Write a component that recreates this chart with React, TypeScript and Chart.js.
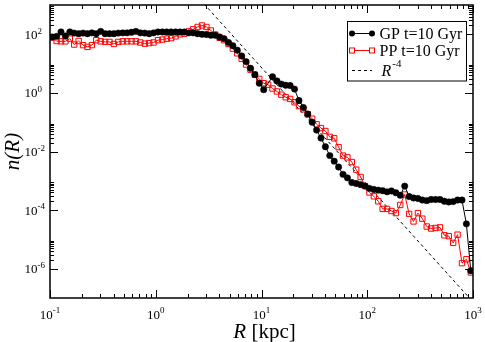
import React, { useEffect, useRef } from 'react';
import { Chart, registerables } from 'chart.js';

Chart.register(...registerables);

// Radii of the bins [kpc]
const R_KPC = [
  0.10491, 0.11548, 0.1271, 0.1399, 0.15399, 0.1695, 0.18657, 0.20535, 0.22603, 0.2488, 0.27384, 0.30142,
  0.33177, 0.36517, 0.40194, 0.44242, 0.48697, 0.536, 0.58997, 0.64938, 0.71477, 0.78674, 0.86596, 0.95316,
  1.0491, 1.1548, 1.271, 1.399, 1.5399, 1.695, 1.8657, 2.0535, 2.2603, 2.488, 2.7384, 3.0142,
  3.3177, 3.6517, 4.0194, 4.4242, 4.8697, 5.36, 5.8997, 6.4938, 7.1477, 7.8674, 8.6596, 9.5316,
  10.491, 11.548, 12.71, 13.99, 15.399, 16.95, 18.657, 20.535, 22.603, 24.88, 27.384, 30.142,
  33.177, 36.517, 40.194, 44.242, 48.697, 53.6, 58.997, 64.938, 71.477, 78.674, 86.596, 95.316,
  104.91, 115.48, 127.1, 139.9, 153.99, 169.5, 186.57, 205.35, 226.03, 248.8, 273.84, 301.42,
  331.77, 365.17, 401.94, 442.42, 486.97, 536.0, 589.97, 649.38, 714.77, 786.74, 865.96, 953.16,
];

// GP t=10 Gyr
const GP_N = [
  81, 85, 120, 87, 120, 110, 105, 110, 105, 112,
  105, 126, 105, 105, 105, 110, 112, 112, 117, 126,
  112, 110, 105, 112, 120, 120, 120, 120, 120, 120,
  120, 112, 112, 105, 100, 98, 93, 93, 81, 71,
  52.5, 40.7, 28.8, 18.2, 11.7, 6.9, 4.2, 2.14, 1.29, null,
  3.55, 2.57, 2.0, 1.82, 1.78, 1.35, 0.55, 0.316, 0.19, 0.1,
  0.0537, 0.0288, 0.0145, 0.00724, 0.00468, 0.00295, 0.00166, 0.00126, 8.7e-4, 8.1e-4,
  7.4e-4, 6.6e-4, 5.5e-4, 5.1e-4, 4.8e-4, 4.6e-4, 4.2e-4, 4.5e-4, 3.9e-4, 3.2e-4,
  6.6e-4, 2.9e-4, 2.6e-4, 2.5e-4, 2.2e-4, 2.1e-4, 2.3e-4, 2.3e-4, 2.3e-4, 2.0e-4,
  1.9e-4, 1.95e-4, 2.2e-4, 2.2e-4, 3.4e-5, 8.5e-7,
];

// PP t=10 Gyr
const PP_N = [
  78, 59, 57.5, 57.5, 71, 44.7, 59, 42.7, 37.2, 42.7,
  63, 57.5, 55, 55, 46.8, 55, 57.5, 57.5, 57.5, 57.5,
  52.5, 47.9, 50, 52.5, 63, 66, 71, 74, 85, 100,
  105, 126, 148, 178, 200, 178, 135, 98, 76, 63,
  46.8, 32.4, 22.4, 14.5, 9.3, 6.2, 4.2, 3.0, 2.14, 1.91,
  1.41, 1.12, 0.87, 0.71, 0.62, 0.48, 0.355, 0.275, 0.186, 0.132,
  0.085, 0.063, 0.05, 0.0316, 0.0282, 0.0141, 0.00724, 0.00631, 0.00437, 0.0024,
  0.00135, 6.6e-4, 4.0e-4, 2.95e-4, 2.0e-4, 1.1e-4, 1.1e-4, 9.3e-5, 7.9e-5, 1.5e-4,
  3.4e-4, 7.4e-5, 4.1e-5, 7.9e-5, 5.1e-5, 2.75e-5, 2.35e-5, 2.45e-5, 2.57e-5, 1.38e-5,
  1.29e-5, 7.6e-6, 1.45e-5, 1.55e-6, 2.1e-6, 7.4e-7,
];

// R^-4 reference line (end points)
const R4_X = [1, 1000];
const R4_Y = [7.3e4, 7.3e-8];

// Axis ticks
const X_MAJOR = [0.1, 1, 10, 100, 1000];
const X_EXP = ['-1', '0', '1', '2', '3'];
const Y_MAJOR = [1e2, 1, 1e-2, 1e-4, 1e-6];
const Y_EXP = ['2', '0', '-2', '-4', '-6'];
const MINOR_MULT = [2, 3, 4, 5, 6, 7, 8, 9];

const LEGEND_LABELS = ['GP t=10 Gyr', 'PP t=10 Gyr'];

const SERIF = '"Liberation Serif", "Times New Roman", serif';

const framePlugin = {
  id: 'graceFrame',
  afterDatasetsDraw(chart: any) {
    const { ctx, chartArea, scales } = chart;
    const { left, right, top, bottom } = chartArea;
    const xs = scales.x;
    const ys = scales.y;
    ctx.save();
    ctx.strokeStyle = '#000';
    ctx.fillStyle = '#000';
    ctx.lineWidth = 1.5;
    ctx.strokeRect(left, top, right - left, bottom - top);

    const seg = (x1: number, y1: number, x2: number, y2: number) => {
      ctx.beginPath();
      ctx.moveTo(x1, y1);
      ctx.lineTo(x2, y2);
      ctx.stroke();
    };
    ctx.lineWidth = 1;
    const MAJ = 8;
    const MIN = 4;
    // x ticks
    X_MAJOR.forEach((v, i) => {
      const px = Math.round(xs.getPixelForValue(v)) + 0.5;
      seg(px, bottom, px, bottom - MAJ);
      seg(px, top, px, top + MAJ);
      if (i < X_MAJOR.length - 1) {
        MINOR_MULT.forEach((m) => {
          const p = Math.round(xs.getPixelForValue(v * m)) + 0.5;
          seg(p, bottom, p, bottom - MIN);
          seg(p, top, p, top + MIN);
        });
      }
    });
    // y ticks
    Y_MAJOR.forEach((v) => {
      const py = Math.round(ys.getPixelForValue(v)) + 0.5;
      seg(left, py, left + MAJ, py);
      seg(right, py, right - MAJ, py);
      MINOR_MULT.forEach((m) => {
        const p = Math.round(ys.getPixelForValue(v * m)) + 0.5;
        seg(left, p, left + MIN, p);
        seg(right, p, right - MIN, p);
      });
    });

    // tick labels
    const baseFont = `13px ${SERIF}`;
    const expFont = `9px ${SERIF}`;
    ctx.textBaseline = 'alphabetic';
    ctx.textAlign = 'left';
    X_MAJOR.forEach((v, i) => {
      const px = xs.getPixelForValue(v);
      ctx.font = baseFont;
      const w1 = ctx.measureText('10').width;
      ctx.font = expFont;
      const w2 = ctx.measureText(X_EXP[i]).width;
      const x0 = px - (w1 + w2) / 2;
      const base = bottom + 20.5;
      ctx.font = baseFont;
      ctx.fillText('10', x0, base);
      ctx.font = expFont;
      ctx.fillText(X_EXP[i], x0 + w1, base - 5.5);
    });
    Y_MAJOR.forEach((v, i) => {
      const py = ys.getPixelForValue(v);
      ctx.font = baseFont;
      const w1 = ctx.measureText('10').width;
      const xr = 37.5;
      ctx.fillText('10', xr - w1, py + 4.5);
      ctx.font = expFont;
      ctx.fillText(Y_EXP[i], xr, py - 0.8);
    });

    // axis titles
    ctx.font = `italic 21px ${SERIF}`;
    const rw = ctx.measureText('R').width;
    ctx.font = `21px ${SERIF}`;
    const kw = ctx.measureText(' [kpc]').width;
    const cx = (left + right) / 2 + 3;
    const tx = cx - (rw + kw) / 2;
    ctx.font = `italic 21px ${SERIF}`;
    ctx.fillText('R', tx, 338);
    ctx.font = `21px ${SERIF}`;
    ctx.fillText(' [kpc]', tx + rw, 338);

    ctx.save();
    ctx.translate(19, (top + bottom) / 2);
    ctx.rotate(-Math.PI / 2);
    ctx.font = `italic 21px ${SERIF}`;
    ctx.textAlign = 'center';
    ctx.fillText('n(R)', 0, 0);
    ctx.restore();

    // legend
    const lx = 347.5, ly = 21.5, lw = 119, lh = 59.5;
    ctx.lineWidth = 1;
    ctx.fillStyle = '#fff';
    ctx.fillRect(lx, ly, lw, lh);
    ctx.strokeStyle = '#000';
    ctx.strokeRect(lx, ly, lw, lh);
    const sx1 = 352, sx2 = 372, textX = 379.5;
    // GP
    ctx.strokeStyle = '#000';
    ctx.fillStyle = '#000';
    seg(sx1, 33.5, sx2, 33.5);
    [sx1, sx2].forEach((p) => {
      ctx.beginPath();
      ctx.arc(p, 33.5, 3, 0, Math.PI * 2);
      ctx.fill();
    });
    ctx.font = `16px ${SERIF}`;
    ctx.textAlign = 'left';
    ctx.fillText(LEGEND_LABELS[0], textX, 38.5);
    // PP
    ctx.strokeStyle = '#ff0000';
    seg(sx1, 50.5, sx2, 50.5);
    [sx1, sx2].forEach((p) => {
      ctx.fillStyle = '#fff';
      ctx.fillRect(p - 2.5, 48, 5, 5);
      ctx.strokeRect(p - 2.5, 48, 5, 5);
    });
    ctx.fillStyle = '#000';
    ctx.fillText(LEGEND_LABELS[1], textX, 55.5);
    // R^-4
    ctx.strokeStyle = '#000';
    ctx.setLineDash([3, 3]);
    seg(sx1, 70.5, sx2, 70.5);
    ctx.setLineDash([]);
    ctx.font = `italic 16px ${SERIF}`;
    ctx.fillText('R', textX + 2, 76);
    const rrw = ctx.measureText('R').width;
    ctx.font = `11px ${SERIF}`;
    ctx.fillText('-4', textX + 2 + rrw + 1, 67);

    ctx.restore();
  },
};

export default function App() {
  const ref = useRef<HTMLCanvasElement | null>(null);
  useEffect(() => {
    if (!ref.current) return;
    const gp = R_KPC.map((r, i) => ({ x: r, y: GP_N[i] }));
    const pp = R_KPC.map((r, i) => ({ x: r, y: PP_N[i] }));
    const r4 = R4_X.map((r, i) => ({ x: r, y: R4_Y[i] }));
    const chart = new Chart(ref.current, {
      type: 'scatter',
      data: {
        datasets: [
          {
            label: LEGEND_LABELS[0],
            data: gp,
            showLine: true,
            spanGaps: true,
            borderColor: '#000',
            borderWidth: 1,
            pointStyle: 'circle',
            pointRadius: 3.2,
            pointBorderWidth: 0.5,
            pointBackgroundColor: '#000',
            pointBorderColor: '#000',
          },
          {
            label: LEGEND_LABELS[1],
            data: pp,
            showLine: true,
            spanGaps: true,
            borderColor: '#ff0000',
            borderWidth: 1,
            pointStyle: 'rect',
            pointRadius: 3.8,
            pointBorderWidth: 1,
            pointBackgroundColor: 'rgba(255,255,255,0)',
            pointBorderColor: '#ff0000',
          },
          {
            label: 'R^-4',
            data: r4,
            showLine: true,
            borderColor: '#000',
            borderWidth: 1,
            borderDash: [3, 3],
            pointRadius: 0,
          },
        ],
      },
      options: {
        responsive: false,
        animation: false,
        events: [],
        layout: { padding: { left: 50, top: 2, right: 12, bottom: 44 } },
        elements: { line: { tension: 0 } },
        plugins: { legend: { display: false }, tooltip: { enabled: false } },
        scales: {
          x: { type: 'logarithmic', min: 0.1, max: 1000, display: false },
          y: { type: 'logarithmic', min: 1e-7, max: 1e3, display: false },
        },
      },
      plugins: [framePlugin],
    });
    return () => chart.destroy();
  }, []);
  return (
    <div style={{ position: 'fixed', left: 0, top: 0, width: 485, height: 342, background: '#fff' }}>
      <canvas ref={ref} width={485} height={342} style={{ display: 'block' }} />
    </div>
  );
}
